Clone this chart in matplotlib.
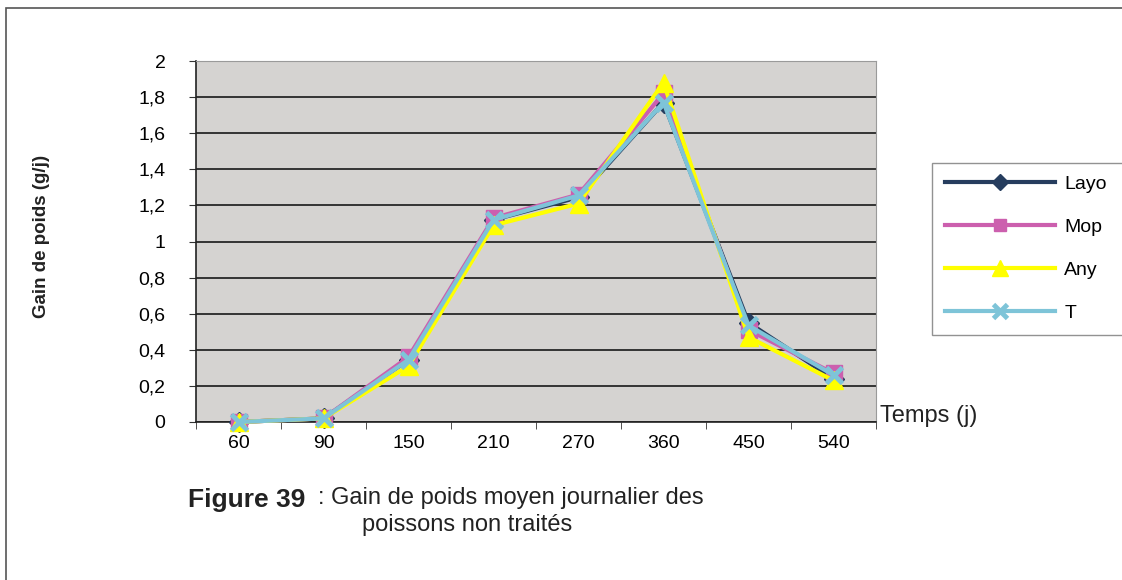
import matplotlib
matplotlib.use('Agg')
import matplotlib.pyplot as plt
from matplotlib.patches import Rectangle

# Data (daily weight gain, g/j)
days = ['60', '90', '150', '210', '270', '360', '450', '540']
layo = [0.00, 0.02, 0.345, 1.12, 1.245, 1.77, 0.55, 0.24]
mop = [0.00, 0.02, 0.36, 1.13, 1.26, 1.82, 0.51, 0.27]
any_ = [0.00, 0.02, 0.31, 1.09, 1.21, 1.88, 0.47, 0.23]
t = [0.00, 0.02, 0.345, 1.12, 1.255, 1.77, 0.535, 0.26]
series_names = ['Layo', 'Mop', 'Any', 'T']
yticks = [0, 0.2, 0.4, 0.6, 0.8, 1, 1.2, 1.4, 1.6, 1.8, 2]

plt.rcParams['font.family'] = ['Liberation Sans', 'DejaVu Sans']

fig = plt.figure(figsize=(11.22, 5.80), dpi=100)
ax = fig.add_axes([196 / 1122, 158 / 580, 680 / 1122, 361 / 580])
ax.set_facecolor('#d5d3d1')

x = list(range(len(days)))
styles = [
    (layo, '#263d5e', 'D', 10),
    (mop, '#cc5fae', 's', 11),
    (any_, '#ffff00', '^', 13),
]
for vals, col, mk, ms in styles:
    ax.plot(x, vals, color=col, lw=3, marker=mk, ms=ms, mfc=col, mec=col,
            zorder=3, clip_on=False)
ax.plot(x, t, color='#7ec4d8', lw=3, marker='x', ms=12, mew=3.5, zorder=4,
        clip_on=False)

ax.set_xlim(-0.5, 7.5)
ax.set_ylim(0, 2)
ax.set_yticks(yticks)
ax.set_yticklabels([('%g' % v).replace('.', ',') for v in yticks], fontsize=14)
ax.set_xticks(x)
ax.set_xticklabels(days, fontsize=14)
ax.set_xticks([i - 0.5 for i in range(len(days) + 1)], minor=True)
ax.tick_params(axis='x', which='major', length=0, pad=9)
ax.tick_params(axis='x', which='minor', length=5, direction='out', color='#333333')
ax.tick_params(axis='y', length=5, direction='out', pad=17, color='#333333')

ax.grid(axis='y', color='#333333', lw=1.4)
ax.set_axisbelow(True)
for side in ['top', 'right']:
    ax.spines[side].set_color('#9a9a9a')
for side in ['left', 'bottom']:
    ax.spines[side].set_color('#222222')
    ax.spines[side].set_linewidth(1.2)

# axis titles
fig.text(42 / 1122, 1 - 236 / 580, 'Gain de poids (g/j)', rotation=90,
         ha='center', va='center', fontsize=13.5, fontweight='bold',
         color='#222222')
fig.text(880 / 1122, 1 - 416 / 580, 'Temps (j)', ha='left', va='center',
         fontsize=17, color='#222222')

# legend (runs off the right edge of the page)
handles = ax.get_lines()
leg = fig.legend(handles, series_names, loc='upper left',
                 bbox_to_anchor=(932 / 1122, 1 - 338 / 580, 300 / 1122, 175 / 580),
                 mode='expand', borderaxespad=0, fontsize=14, handlelength=5.7,
                 handletextpad=0.45, labelspacing=1.3, borderpad=0.65,
                 frameon=True, fancybox=False, edgecolor='#777777',
                 markerscale=0.85)
leg.get_frame().set_linewidth(1.0)

# caption
fig.text(188 / 1122, 1 - 500 / 580, 'Figure 39', ha='left', va='center',
         fontsize=19, fontweight='bold', color='#222222')
fig.text(318 / 1122, 1 - 498 / 580, ': Gain de poids moyen journalier des',
         ha='left', va='center', fontsize=17, color='#222222')
fig.text(362 / 1122, 1 - 525 / 580, 'poissons non traités',
         ha='left', va='center', fontsize=17, color='#222222')

# page frame
fig.patches.append(Rectangle((6 / 1122, -0.1), 1.2, 1.1 - 8 / 580,
                             transform=fig.transFigure, fill=False,
                             edgecolor='#555555', lw=1.2))

fig.savefig('out.png', dpi=100)
